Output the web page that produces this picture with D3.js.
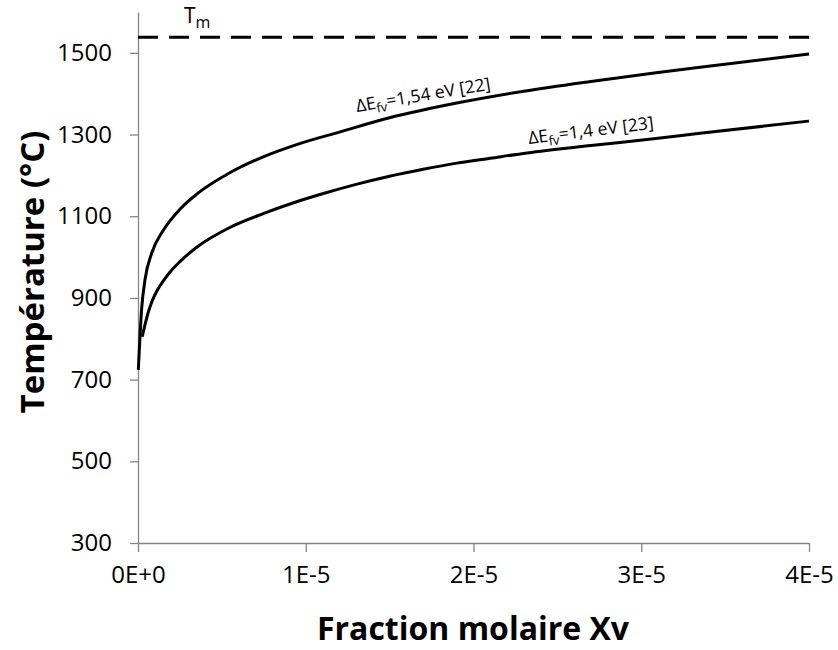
<!DOCTYPE html>
<html><head><meta charset="utf-8">
<script src="https://cdn.jsdelivr.net/npm/d3@7"></script>
<style>
html,body{margin:0;padding:0;background:#fff;}
svg{display:block;font-family:"Open Sans",sans-serif;}
</style></head>
<body>
<svg id="chart" width="838" height="650"></svg>
<script>
// ---- data ----
const xUpper = [2e-8, 2.2e-7, 4.2e-7, 8.2e-7, 1.5e-6, 2.5e-6, 3.5e-6, 5.5e-6, 7.5e-6, 9.5e-6, 1.2e-5, 1.5e-5, 1.9e-5, 2.3e-5, 2.7e-5, 3.1e-5, 3.35e-5, 4e-5];
const tUpper = [724, 875, 945, 1010, 1065, 1117, 1154, 1207, 1246, 1276, 1306, 1341, 1377, 1406, 1430, 1452, 1465, 1497];
const xLower = [2.5e-7, 6e-7, 8.2e-7, 1.1e-6, 1.5e-6, 1.9e-6, 2.5e-6, 3.5e-6, 5.5e-6, 7.5e-6, 9.5e-6, 1.1e-5, 1.3e-5, 1.5e-5, 1.7e-5, 1.9e-5, 2.1e-5, 2.32e-5, 2.7e-5, 3.1e-5, 3.35e-5, 4e-5];
const tLower = [805, 863, 890, 915, 941, 963, 989, 1024, 1073, 1107, 1136, 1155, 1178, 1198, 1215, 1230, 1242, 1255, 1273, 1291, 1303, 1333];
const tMelt = 1538;
const xTicks = [0, 1e-5, 2e-5, 3e-5, 4e-5];
const xTickLabels = ["0E+0", "1E-5", "2E-5", "3E-5", "4E-5"];
const yTicks = [300, 500, 700, 900, 1100, 1300, 1500];
const labelUpper = {main: "ΔE", sub: "fv", rest: "=1,54 eV [22]"};
const labelLower = {main: "ΔE", sub: "fv", rest: "=1,4 eV [23]"};
const xTitle = "Fraction molaire Xv";
const yTitle = "Température (°C)";

// ---- layout ----
const svg = d3.select("#chart");
const L = 138, R = 809, T = 12, B = 543;
const x = d3.scaleLinear().domain([0, 4e-5]).range([L, R]);
const y = d3.scaleLinear().domain([300, 1600]).range([B, T]);
const axisColor = "#868686";
const font = "'Open Sans', sans-serif";

// y axis
const yAxis = svg.append("g").attr("transform", `translate(${L},0)`)
  .call(d3.axisLeft(y).tickValues(yTicks).tickFormat(d3.format("d")).tickSize(8).tickSizeOuter(0).tickPadding(18));
yAxis.select(".domain").attr("stroke", axisColor).attr("stroke-width", 1.3);
yAxis.selectAll(".tick line").attr("stroke", axisColor).attr("stroke-width", 1.3);
yAxis.selectAll(".tick text").attr("font-size", 24).attr("fill", "#000").attr("font-family", font);

// x axis
const xAxis = svg.append("g").attr("transform", `translate(0,${B})`)
  .call(d3.axisBottom(x).tickValues(xTicks).tickFormat((d, i) => xTickLabels[i]).tickSize(9).tickSizeOuter(0).tickPadding(14));
xAxis.select(".domain").attr("stroke", axisColor).attr("stroke-width", 1.3);
xAxis.selectAll(".tick line").attr("stroke", axisColor).attr("stroke-width", 1.3);
xAxis.selectAll(".tick text").attr("font-size", 24).attr("fill", "#000").attr("font-family", font);

// melting temperature
svg.append("line")
  .attr("x1", x(0)).attr("x2", x(4e-5))
  .attr("y1", y(tMelt)).attr("y2", y(tMelt))
  .attr("stroke", "#000").attr("stroke-width", 3)
  .attr("stroke-dasharray", "20,11");
const tm = svg.append("text").attr("x", 184).attr("y", 23).attr("font-size", 21).attr("fill", "#000");
tm.append("tspan").text("T");
tm.append("tspan").attr("font-size", 16).attr("dy", 5).text("m");

// curves
const line = d3.line().x(d => x(d[0])).y(d => y(d[1])).curve(d3.curveMonotoneX);
const upper = xUpper.map((v, i) => [v, tUpper[i]]);
const lower = xLower.map((v, i) => [v, tLower[i]]);
[upper, lower].forEach(data => {
  svg.append("path").datum(data).attr("d", line)
    .attr("fill", "none").attr("stroke", "#000").attr("stroke-width", 3)
    .attr("stroke-linejoin", "round");
});

// annotations
function annot(lbl, px, py, angle) {
  const t = svg.append("text")
    .attr("transform", `translate(${px},${py}) rotate(${angle})`)
    .attr("font-size", 17.5).attr("fill", "#000");
  t.append("tspan").text(lbl.main);
  t.append("tspan").attr("font-size", 13).attr("dy", 4).text(lbl.sub);
  t.append("tspan").attr("dy", -4).text(lbl.rest);
}
annot(labelUpper, 357, 112, -9.5);
annot(labelLower, 529, 144, -7);

// axis titles
svg.append("text").attr("x", 473).attr("y", 640)
  .attr("text-anchor", "middle").attr("font-size", 32).attr("font-weight", "bold")
  .attr("fill", "#000").text(xTitle);
svg.append("text").attr("transform", `translate(44,272) rotate(-90)`)
  .attr("text-anchor", "middle").attr("font-size", 33).attr("font-weight", "bold")
  .attr("fill", "#000").text(yTitle);
</script>
</body></html>
